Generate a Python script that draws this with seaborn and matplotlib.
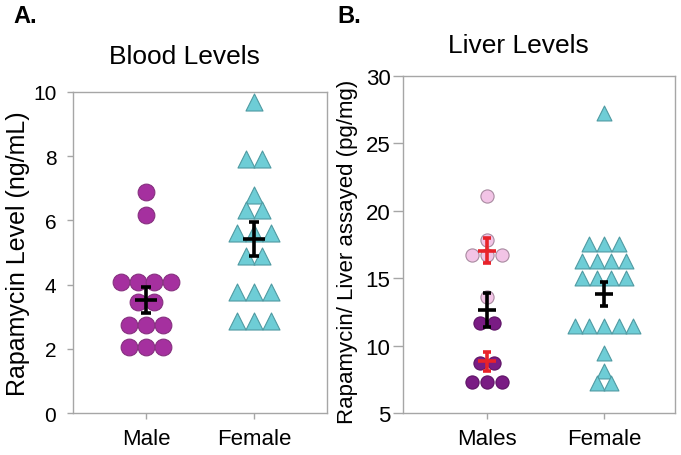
import numpy as np
import seaborn as sns
import matplotlib.pyplot as plt

sns.set_theme(style="white")
plt.rcParams["font.family"] = ["Liberation Sans", "DejaVu Sans"]
plt.rcParams["text.color"] = "black"
plt.rcParams["axes.labelcolor"] = "black"
plt.rcParams["xtick.labelcolor"] = "black"
plt.rcParams["ytick.labelcolor"] = "black"

# blood levels (ng/mL)
blood_groups = ["Male", "Female"]
blood_male = [6.87, 6.17, 4.07, 4.07, 4.07, 4.07, 3.47, 3.47,
              2.75, 2.75, 2.75, 2.07, 2.07, 2.07]
blood_female = [9.68, 7.91, 7.91, 6.80, 6.32, 6.32, 5.61, 5.61, 5.61,
                4.90, 4.90, 3.76, 3.76, 3.76, 2.86, 2.86, 2.86]
blood_mean = [3.52, 5.42]
blood_sem = [0.39, 0.52]

# liver levels (pg/mg)
liver_groups = ["Males", "Female"]
liver_male_high = [21.13, 17.84, 16.73, 16.73, 16.73, 13.64]
liver_male_low = [11.68, 11.68, 8.69, 8.69, 7.28, 7.28, 7.28]
liver_female = [27.25, 17.55, 17.55, 17.55, 16.26, 16.26, 16.26, 16.26,
                15.0, 15.0, 15.0, 15.0, 11.44, 11.44, 11.44, 11.44, 11.44,
                9.43, 8.14, 7.23, 7.23]
liver_mean = [12.63, 13.83]
liver_sem = [1.27, 0.92]
sub_mean = [17.05, 8.84]   # male high / low subgroups
sub_sem = [0.92, 0.71]

PURPLE = "#a5309f"
CYAN = "#6ecdd6"
PINK = "#f2c4e6"
DARK = "#7a1c84"
RED = "#e8222a"
GRAY = "#a6a6a6"


def spread(vals, step):
    # lay equal values out side by side, centred on the group
    vals = np.asarray(vals)
    off = np.zeros(len(vals))
    for v in np.unique(vals):
        idx = np.where(vals == v)[0]
        off[idx] = (np.arange(len(idx)) - (len(idx) - 1) / 2) * step
    return off


def dots(ax, pos, vals, step, **kw):
    x = pos + spread(vals, step)
    sns.scatterplot(x=x, y=vals, ax=ax, linewidth=0.8, zorder=2,
                    legend=False, **kw)


def bars(ax, pos, mean, sem, color, half, cap):
    ax.errorbar(pos, mean, yerr=sem, fmt="none", ecolor=color,
                elinewidth=2.6, capsize=cap, capthick=2.6, zorder=4)
    ax.errorbar(pos, mean, xerr=half, fmt="none", ecolor=color,
                elinewidth=2.6, capsize=0, zorder=4)


def style(ax, pad_y):
    for s in ax.spines.values():
        s.set_color(GRAY)
        s.set_linewidth(1.0)
    ax.tick_params(axis="both", which="major", direction="out",
                   color=GRAY, length=4, width=1, bottom=True, left=True)
    ax.tick_params(axis="y", pad=pad_y)
    ax.tick_params(axis="x", pad=7, labelsize=16)


fig = plt.figure(figsize=(6.81, 4.56), dpi=100)

# ---- A. blood
ax1 = fig.add_axes([0.1072, 0.0921, 0.373, 0.704])
dots(ax1, 0, blood_male, 0.155, color=PURPLE, edgecolor="#86307f",
     marker="o", s=145)
dots(ax1, 1, blood_female, 0.155, color=CYAN, edgecolor="#4f9aa2",
     marker="^", s=150)
for i in range(2):
    bars(ax1, i, blood_mean[i], blood_sem[i], "black", 0.10, 3.6)
ax1.set_xlim(-0.676, 1.676)
ax1.set_ylim(0, 10)
ax1.set_yticks([0, 2, 4, 6, 8, 10])
ax1.set_xticks([0, 1])
ax1.set_xticklabels(blood_groups)
style(ax1, 8)
ax1.tick_params(axis="y", labelsize=15)
ax1.set_ylabel("Rapamycin Level (ng/mL)", fontsize=18)
ax1.yaxis.set_label_coords(-0.17, 0.5)

# ---- B. liver
ax2 = fig.add_axes([0.5918, 0.0921, 0.3994, 0.739])
dots(ax2, 0, liver_male_high, 0.126, color=PINK, edgecolor="#a88aa0",
     marker="o", s=90)
dots(ax2, 0, liver_male_low, 0.126, color=DARK, edgecolor="#5e1466",
     marker="o", s=90)
dots(ax2, 1, liver_female, 0.126, color=CYAN, edgecolor="#4f9aa2",
     marker="^", s=115)
for i in range(2):
    bars(ax2, i, liver_mean[i], liver_sem[i], "black", 0.077, 2.9)
for m, e in zip(sub_mean, sub_sem):
    bars(ax2, 0, m, e, RED, 0.077, 2.9)
ax2.set_xlim(-0.718, 1.607)
ax2.set_ylim(5, 30)
ax2.set_yticks([5, 10, 15, 20, 25, 30])
ax2.set_xticks([0, 1])
ax2.set_xticklabels(liver_groups)
style(ax2, 2)
ax2.tick_params(axis="y", labelsize=16, length=7)
ax2.set_ylabel("Rapamycin/ Liver assayed (pg/mg)", fontsize=16)
ax2.yaxis.set_label_coords(-0.165, 0.48)

fig.text(184 / 681, 1 - 64 / 456, "Blood Levels", fontsize=19,
         ha="center", va="baseline")
fig.text(518 / 681, 1 - 53 / 456, "Liver Levels", fontsize=19,
         ha="center", va="baseline")
fig.text(13 / 681, 1 - 23 / 456, "A.", fontsize=17, fontweight="bold",
         ha="left", va="baseline")
fig.text(337 / 681, 1 - 23 / 456, "B.", fontsize=17, fontweight="bold",
         ha="left", va="baseline")

fig.savefig("out.png", dpi=100)
